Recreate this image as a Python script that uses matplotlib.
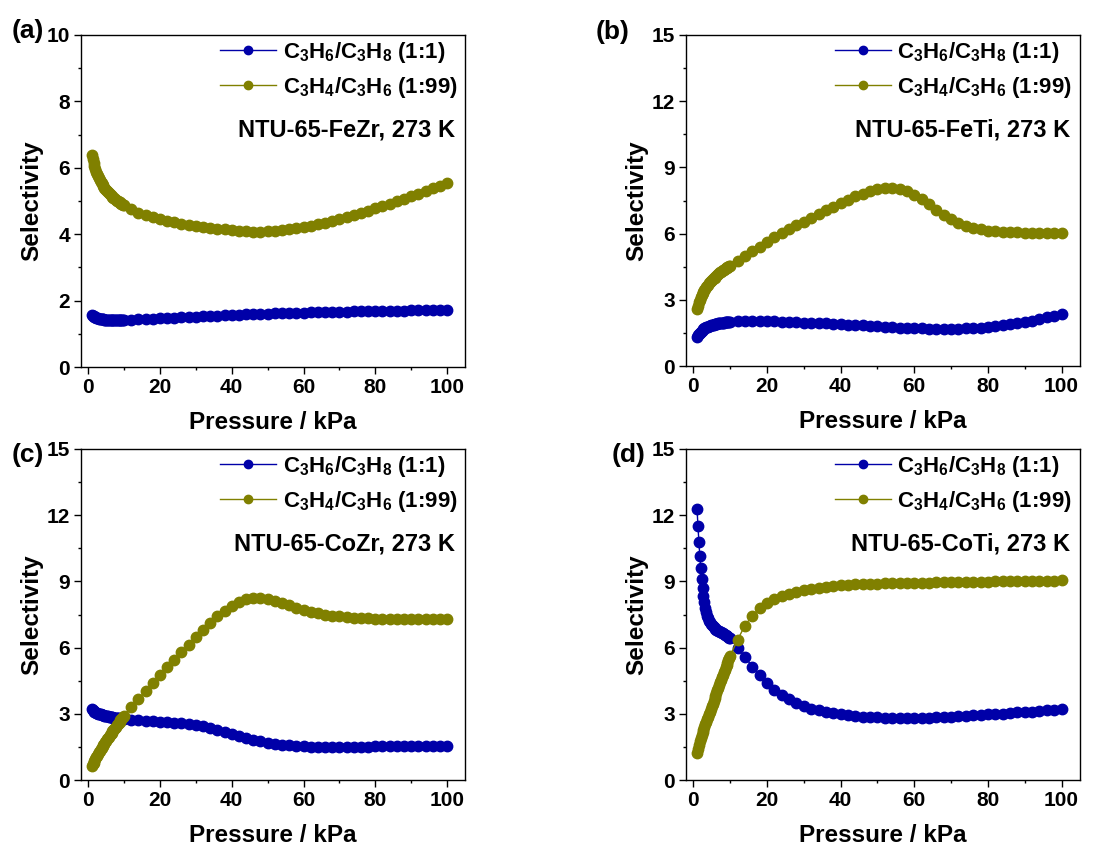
import matplotlib
matplotlib.use('Agg')
import matplotlib.pyplot as plt
from matplotlib.ticker import MultipleLocator

plt.rcParams['font.family'] = ['Liberation Sans', 'DejaVu Sans']
plt.rcParams['font.weight'] = 'bold'
plt.rcParams['mathtext.fontset'] = 'custom'
plt.rcParams['mathtext.rm'] = 'Liberation Sans:bold'
plt.rcParams['mathtext.bf'] = 'Liberation Sans:bold'
plt.rcParams['mathtext.default'] = 'bf'

# pressure points (kPa): fine steps up to 10, then every 2 kPa
p_low = [1, 1.25, 1.5, 1.75, 2, 2.25, 2.5, 2.75, 3, 3.25, 3.5, 3.75, 4, 4.25, 4.5, 4.75,
         5, 5.25, 5.5, 5.75, 6, 6.25, 6.5, 6.75, 7, 7.25, 7.5, 7.75, 8, 8.25, 8.5, 8.75,
         9, 9.25, 9.5, 9.75, 10]
p_high = [12, 14, 16, 18, 20, 22, 24, 26, 28, 30, 32, 34, 36, 38, 40, 42, 44, 46, 48, 50,
          52, 54, 56, 58, 60, 62, 64, 66, 68, 70, 72, 74, 76, 78, 80, 82, 84, 86, 88, 90,
          92, 94, 96, 98, 100]
pressure = p_low + p_high

# NTU-65-FeZr
fezr_propene = [1.57, 1.55, 1.53, 1.51, 1.5, 1.49, 1.48, 1.47, 1.46, 1.455, 1.45, 1.445, 1.44,
                1.435, 1.43, 1.425, 1.42, 1.42, 1.415, 1.415, 1.41, 1.41, 1.41, 1.41, 1.41,
                1.41, 1.41, 1.41, 1.41, 1.41, 1.41, 1.41, 1.41, 1.415, 1.415, 1.42, 1.42,
                1.43, 1.44, 1.45, 1.46, 1.47, 1.48, 1.49, 1.5, 1.51, 1.52, 1.53, 1.54, 1.55,
                1.56, 1.57, 1.58, 1.59, 1.6, 1.6, 1.61, 1.62, 1.62, 1.63, 1.64, 1.64, 1.65,
                1.65, 1.66, 1.66, 1.67, 1.67, 1.68, 1.68, 1.69, 1.69, 1.69, 1.7, 1.7, 1.7,
                1.71, 1.71, 1.71, 1.72, 1.72, 1.72]
fezr_propyne = [6.38, 6.26, 6.15, 6.05, 5.95, 5.88, 5.81, 5.74, 5.68, 5.63, 5.58, 5.53, 5.48,
                5.44, 5.4, 5.36, 5.32, 5.29, 5.26, 5.23, 5.2, 5.17, 5.15, 5.12, 5.1, 5.08,
                5.05, 5.03, 5.01, 4.99, 4.97, 4.96, 4.94, 4.92, 4.9, 4.89, 4.87,
                4.75, 4.65, 4.58, 4.51, 4.46, 4.41, 4.36, 4.31, 4.28, 4.25, 4.22, 4.2, 4.17,
                4.15, 4.13, 4.11, 4.09, 4.08, 4.08, 4.09, 4.1, 4.12, 4.15, 4.18, 4.22, 4.26,
                4.3, 4.35, 4.4, 4.46, 4.52, 4.58, 4.64, 4.71, 4.78, 4.85, 4.92, 4.99, 5.07,
                5.14, 5.22, 5.3, 5.38, 5.46, 5.54]

# NTU-65-FeTi
feti_propene = [1.32, 1.39, 1.45, 1.51, 1.56, 1.6, 1.64, 1.67, 1.7, 1.72, 1.75, 1.77, 1.79,
                1.81, 1.83, 1.84, 1.86, 1.87, 1.88, 1.89, 1.9, 1.91, 1.92, 1.93, 1.94, 1.95,
                1.96, 1.96, 1.97, 1.97, 1.98, 1.98, 1.99, 1.99, 2.0, 2.0, 2.01,
                2.02, 2.03, 2.04, 2.04, 2.03, 2.02, 2.01, 2.0, 1.99, 1.97, 1.96, 1.95, 1.93,
                1.92, 1.9, 1.88, 1.86, 1.84, 1.82, 1.8, 1.78, 1.76, 1.74, 1.72, 1.71, 1.7,
                1.69, 1.68, 1.68, 1.68, 1.69, 1.7, 1.72, 1.74, 1.77, 1.81, 1.85, 1.9, 1.95,
                2.0, 2.06, 2.13, 2.2, 2.28, 2.37]
feti_propyne = [2.58, 2.74, 2.88, 3.0, 3.11, 3.2, 3.29, 3.37, 3.44, 3.51, 3.57, 3.63, 3.69,
                3.74, 3.79, 3.84, 3.89, 3.93, 3.97, 4.01, 4.05, 4.09, 4.13, 4.17, 4.2, 4.24,
                4.27, 4.3, 4.33, 4.36, 4.39, 4.42, 4.45, 4.47, 4.5, 4.52, 4.55,
                4.75, 4.97, 5.2, 5.41, 5.63, 5.83, 6.02, 6.19, 6.37, 6.54, 6.71, 6.88, 7.05,
                7.21, 7.38, 7.54, 7.69, 7.81, 7.92, 8.01, 8.07, 8.08, 8.03, 7.93, 7.77, 7.56,
                7.32, 7.07, 6.84, 6.64, 6.48, 6.36, 6.27, 6.19, 6.14, 6.1, 6.07, 6.06, 6.05,
                6.04, 6.03, 6.03, 6.02, 6.02, 6.02]

# NTU-65-CoZr
cozr_propene = [3.21, 3.17, 3.13, 3.1, 3.07, 3.05, 3.03, 3.01, 3.0, 2.98, 2.97, 2.95, 2.94,
                2.93, 2.92, 2.91, 2.9, 2.89, 2.88, 2.87, 2.86, 2.85, 2.84, 2.84, 2.83, 2.82,
                2.81, 2.81, 2.8, 2.79, 2.79, 2.78, 2.78, 2.77, 2.77, 2.76, 2.76,
                2.73, 2.71, 2.69, 2.67, 2.65, 2.63, 2.6, 2.57, 2.54, 2.5, 2.44, 2.36, 2.28,
                2.19, 2.1, 2.0, 1.91, 1.82, 1.75, 1.69, 1.64, 1.6, 1.57, 1.54, 1.52, 1.51,
                1.5, 1.5, 1.5, 1.5, 1.5, 1.51, 1.51, 1.51, 1.52, 1.52, 1.53, 1.53, 1.53,
                1.54, 1.54, 1.55, 1.55, 1.56, 1.56]
cozr_propyne = [0.62, 0.71, 0.79, 0.87, 0.95, 1.03, 1.1, 1.18, 1.25, 1.32, 1.39, 1.46, 1.52,
                1.59, 1.65, 1.72, 1.78, 1.84, 1.9, 1.96, 2.02, 2.08, 2.14, 2.2, 2.25, 2.31,
                2.37, 2.42, 2.48, 2.53, 2.59, 2.64, 2.7, 2.75, 2.8, 2.86, 2.91,
                3.3, 3.67, 4.04, 4.4, 4.77, 5.1, 5.45, 5.79, 6.12, 6.46, 6.79, 7.12, 7.41,
                7.68, 7.9, 8.08, 8.19, 8.24, 8.24, 8.19, 8.12, 8.02, 7.92, 7.81, 7.72, 7.63,
                7.56, 7.5, 7.45, 7.41, 7.38, 7.35, 7.33, 7.32, 7.31, 7.3, 7.3, 7.29, 7.29,
                7.29, 7.29, 7.29, 7.29, 7.29, 7.29]

# NTU-65-CoTi
coti_propene = [12.28, 11.5, 10.8, 10.15, 9.6, 9.1, 8.7, 8.35, 8.05, 7.8, 7.6, 7.44, 7.32,
                7.22, 7.14, 7.07, 7.01, 6.96, 6.92, 6.88, 6.85, 6.82, 6.79, 6.76, 6.74, 6.71,
                6.69, 6.66, 6.64, 6.61, 6.59, 6.56, 6.54, 6.51, 6.48, 6.45, 6.42,
                6.0, 5.58, 5.14, 4.74, 4.39, 4.1, 3.85, 3.66, 3.49, 3.35, 3.24, 3.15, 3.08,
                3.02, 2.97, 2.93, 2.9, 2.87, 2.85, 2.84, 2.83, 2.82, 2.81, 2.81, 2.81, 2.82,
                2.83, 2.84, 2.85, 2.87, 2.89, 2.91, 2.93, 2.95, 2.97, 2.99, 3.01, 3.03, 3.06,
                3.08, 3.1, 3.13, 3.16, 3.19, 3.22]
coti_propyne = [1.22, 1.42, 1.6, 1.76, 1.9, 2.03, 2.16, 2.28, 2.4, 2.52, 2.64, 2.76, 2.87,
                2.99, 3.1, 3.22, 3.34, 3.46, 3.58, 3.7, 3.82, 3.94, 4.06, 4.18, 4.3, 4.42,
                4.54, 4.65, 4.77, 4.88, 4.99, 5.1, 5.21, 5.32, 5.43, 5.53, 5.63,
                6.35, 7.0, 7.45, 7.78, 8.04, 8.22, 8.35, 8.45, 8.53, 8.6, 8.65, 8.7, 8.75,
                8.79, 8.82, 8.84, 8.86, 8.87, 8.89, 8.9, 8.91, 8.92, 8.93, 8.93, 8.94, 8.95,
                8.95, 8.96, 8.96, 8.97, 8.97, 8.98, 8.98, 8.99, 8.99, 9.0, 9.0, 9.01, 9.01,
                9.02, 9.02, 9.03, 9.03, 9.04, 9.05]

panel_tags = ['(a)', '(b)', '(c)', '(d)']
panel_names = ['NTU-65-FeZr, 273 K', 'NTU-65-FeTi, 273 K', 'NTU-65-CoZr, 273 K', 'NTU-65-CoTi, 273 K']
propene_sets = [fezr_propene, feti_propene, cozr_propene, coti_propene]
propyne_sets = [fezr_propyne, feti_propyne, cozr_propyne, coti_propyne]
y_tops = [10, 15, 15, 15]
y_steps = [2, 3, 3, 3]

label_propene = r'C$_3$H$_6$/C$_3$H$_8$ (1:1)'
label_propyne = r'C$_3$H$_4$/C$_3$H$_6$ (1:99)'

blue = '#0000a8'
olive = '#808000'

W, H = 1106, 852
fig = plt.figure(figsize=(W / 100, H / 100), dpi=100)

# axes boxes in pixels: left, top, right, bottom
boxes = [(81, 35, 465, 367), (686, 35, 1080, 366),
         (81, 449, 465, 780), (686, 449, 1080, 780)]
tag_pos = [(12, 31), (596, 32), (12, 455), (612, 455)]

for i in range(4):
    l, t, r, b = boxes[i]
    ax = fig.add_axes([l / W, 1 - b / H, (r - l) / W, (b - t) / H])
    wpx, hpx = r - l, b - t

    ax.plot(pressure, propene_sets[i], '-o', color=blue, lw=1, ms=7.5, label=label_propene)
    ax.plot(pressure, propyne_sets[i], '-o', color=olive, lw=1, ms=7.5, label=label_propyne)

    ax.set_xlim(-2, 105)
    ax.set_ylim(0, y_tops[i])
    ax.xaxis.set_major_locator(MultipleLocator(20))
    ax.xaxis.set_minor_locator(MultipleLocator(10))
    ax.yaxis.set_major_locator(MultipleLocator(y_steps[i]))
    ax.yaxis.set_minor_locator(MultipleLocator(y_steps[i] / 2))
    ax.tick_params(which='both', direction='out', width=1, labelsize=15)
    ax.tick_params(which='major', length=5, pad=3)
    ax.tick_params(which='minor', length=2.5)
    for s in ax.spines.values():
        s.set_linewidth(1)

    ax.set_xlabel('Pressure / kPa', fontsize=17.5, fontweight='bold')
    ax.set_ylabel('Selectivity', fontsize=17.5, fontweight='bold')
    ax.xaxis.set_label_coords(0.5, -44 / hpx)
    ax.yaxis.set_label_coords(-38 / wpx, 0.5)

    ax.legend(loc='upper right', bbox_to_anchor=(0.98, 0.985), frameon=False,
              fontsize=16, handlelength=2.5, handletextpad=0.3, labelspacing=0.45,
              borderaxespad=0, borderpad=0, markerscale=0.8)
    ax.text(0.975, 0.713, panel_names[i], transform=ax.transAxes, ha='right', va='center',
            fontsize=17, fontweight='bold')

    fig.text(tag_pos[i][0] / W, 1 - tag_pos[i][1] / H, panel_tags[i], ha='left', va='center',
             fontsize=19, fontweight='bold')

fig.savefig('out.png', dpi=100)
